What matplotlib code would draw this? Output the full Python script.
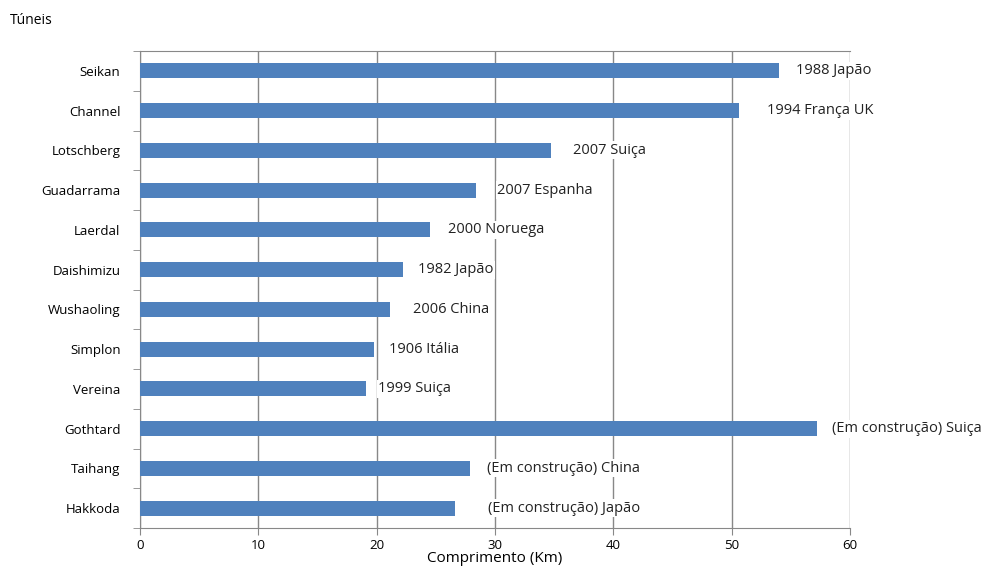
import matplotlib.pyplot as plt

plt.rcParams['font.family'] = ['Open Sans', 'DejaVu Sans']

tuneis = ["Seikan", "Channel", "Lotschberg", "Guadarrama", "Laerdal", "Daishimizu",
          "Wushaoling", "Simplon", "Vereina", "Gothtard", "Taihang", "Hakkoda"]
comprimento = [54.0, 50.6, 34.7, 28.4, 24.5, 22.2, 21.1, 19.8, 19.1, 57.2, 27.9, 26.6]
rotulos = ["1988 Japão", "1994 França UK", "2007 Suiça", "2007 Espanha", "2000 Noruega",
           "1982 Japão", "2006 China", "1906 Itália", "1999 Suiça",
           "(Em construção) Suiça", "(Em construção) China", "(Em construção) Japão"]
# distance (px) between bar end and its label
desloc = [17, 28, 22, 21, 18, 15, 23, 15, 12, 15, 17, 33]

fig = plt.figure(figsize=(9.93, 5.68), dpi=100)
ax = fig.add_axes([140 / 993, 1 - 528 / 568, 710 / 993, 477 / 568])

y = list(range(len(tuneis)))
ax.barh(y, comprimento, height=0.38, color="#4F81BD", zorder=3)

for yi, v, txt, d in zip(y, comprimento, rotulos, desloc):
    ax.annotate(txt, (v, yi), xytext=(d * 0.72, 0), textcoords="offset points",
                va="center", ha="left", fontsize=10.5, color="#222222", zorder=4,
                bbox=dict(boxstyle="square,pad=0.1", fc="white", ec="none"),
                annotation_clip=False)

ax.set_xlim(0, 60)
ax.set_ylim(len(tuneis) - 0.5, -0.5)
ax.set_xticks(range(0, 61, 10))
ax.set_yticks(y)
ax.set_yticklabels(tuneis, fontsize=9.5)
ax.set_yticks([i - 0.5 for i in range(len(tuneis) + 1)], minor=True)
ax.tick_params(axis="y", which="major", length=0, pad=14)
ax.tick_params(axis="y", which="minor", length=5, color="#888888", direction="out")
ax.tick_params(axis="x", length=5, color="#888888", labelsize=9.5, pad=3)
ax.grid(axis="x", color="#888888", linewidth=1, zorder=0)

for side in ["left", "bottom", "top"]:
    ax.spines[side].set_color("#888888")
ax.spines["right"].set_visible(False)

ax.set_xlabel("Comprimento (Km)", fontsize=11, labelpad=-1)
fig.text(10 / 993, 1 - 20 / 568, "Túneis", fontsize=10, va="center", ha="left")

fig.savefig("out.png", dpi=100)
